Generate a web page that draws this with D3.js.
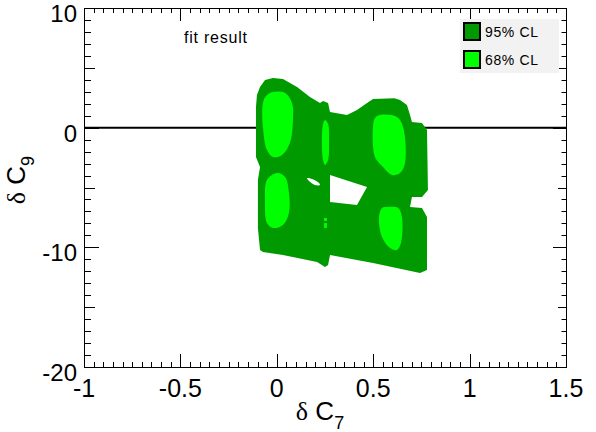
<!DOCTYPE html>
<html>
<head>
<meta charset="utf-8">
<title>delta C7 vs delta C9 fit contours</title>
<script src="https://d3js.org/d3.v7.min.js"></script>
<style>
  body { margin: 0; background: #fff; }
  text { font-family: "Liberation Sans", Arial, sans-serif; fill: #000; }
</style>
</head>
<body>
<script>
  var width = 596,
      height = 432;

  // axis ticks
  var xMajor = [-1, -0.5, 0, 0.5, 1, 1.5];
  var xLabels = ["-1", "-0.5", "0", "0.5", "1", "1.5"];
  var yMajor = [-20, -10, 0, 10];
  var yLabels = ["-20", "-10", "0", "10"];
  var yMedium = [-15, -5, 5];

  // 95% CL region (outer boundary + two holes), [dC7, dC9]
  var cl95Outer = [
    [-0.087, 3.40], [-0.061, 3.98], [-0.020, 4.15], [0.032, 4.07], [0.105, 3.40],
    [0.172, 2.56], [0.224, 2.06], [0.240, 2.23], [0.266, 2.06], [0.276, 1.31],
    [0.364, 1.06], [0.416, 1.48], [0.468, 2.06], [0.499, 2.40], [0.610, 2.45],
    [0.639, 2.31], [0.675, 1.89], [0.691, 1.06], [0.701, 0.47], [0.753, 0.39],
    [0.779, -0.19], [0.784, -5.21], [0.753, -5.79], [0.701, -5.79], [0.691, -6.63],
    [0.753, -6.71], [0.779, -7.46], [0.779, -11.89], [0.743, -12.14], [0.499, -11.31],
    [0.276, -10.64], [0.266, -11.48], [0.250, -11.64], [0.234, -11.48], [0.209, -11.23],
    [0.032, -10.64], [-0.072, -10.39], [-0.087, -10.22], [-0.098, -8.38], [-0.098, -4.37],
    [-0.087, -3.29], [-0.108, -2.45], [-0.108, 1.73], [-0.103, 2.73]
  ];
  var cl95HoleA = [[0.276, -3.96], [0.468, -4.96], [0.416, -6.46], [0.276, -6.21]];
  var cl95HoleB = [[0.157, -4.21], [0.183, -4.29], [0.219, -4.62], [0.224, -4.79], [0.198, -4.79], [0.167, -4.46]];

  // 68% CL islands
  var cl68UpperLeft = [
    [-0.020, 2.98], [0.043, 2.90], [0.079, 2.06], [0.084, 0.64], [0.068, -1.28],
    [0.027, -2.28], [-0.020, -2.45], [-0.051, -1.87], [-0.072, 0.06], [-0.072, 2.06], [-0.056, 2.65]
  ];
  var cl68LowerLeft = [
    [0.001, -3.79], [0.043, -4.12], [0.063, -5.46], [0.063, -7.13], [0.032, -8.13],
    [-0.020, -8.38], [-0.051, -7.97], [-0.061, -6.04], [-0.051, -4.37]
  ];
  var cl68Strip = [
    [0.250, 0.64], [0.266, 0.31], [0.271, -1.20], [0.266, -2.70],
    [0.250, -3.12], [0.240, -2.70], [0.234, -1.20], [0.240, 0.31]
  ];
  var cl68DotA = [[0.245, -7.55], [0.260, -7.55], [0.260, -7.80], [0.245, -7.80]];
  var cl68DotB = [[0.245, -7.97], [0.260, -7.97], [0.260, -8.38], [0.245, -8.38]];
  var cl68UpperRight = [
    [0.535, 1.06], [0.623, 0.89], [0.655, 0.06], [0.665, -2.95], [0.639, -3.79],
    [0.598, -3.96], [0.551, -3.29], [0.509, -2.45], [0.499, 0.06], [0.509, 0.81]
  ];
  var cl68LowerRight = [
    [0.572, -6.63], [0.629, -6.71], [0.649, -7.46], [0.644, -9.64], [0.623, -10.22],
    [0.587, -10.06], [0.546, -9.14], [0.530, -7.46], [0.546, -6.71]
  ];

  var legendLabels = ["95% CL", "68% CL"];
  var legendColors = ["#009900", "#00ff00"];

  var x0 = 84, x1 = 566, y0 = 8, y1 = 367;

  var x = d3.scaleLinear().domain([-1, 1.5]).range([x0, x1]);
  var y = d3.scaleLinear().domain([-20, 10]).range([y1, y0]);

  var svg = d3.select("body").append("svg")
      .attr("width", width)
      .attr("height", height);

  // zero line, under the contours
  svg.append("line")
      .attr("x1", x0).attr("x2", x1)
      .attr("y1", y(0)).attr("y2", y(0))
      .attr("stroke", "#000").attr("stroke-width", 2);

  var lin = d3.line().x(function(d) { return x(d[0]); }).y(function(d) { return y(d[1]); })
      .curve(d3.curveLinearClosed);
  var smooth = d3.line().x(function(d) { return x(d[0]); }).y(function(d) { return y(d[1]); })
      .curve(d3.curveCatmullRomClosed.alpha(0.5));

  svg.append("path")
      .attr("d", lin(cl95Outer) + lin(cl95HoleA) + smooth(cl95HoleB))
      .attr("fill", legendColors[0])
      .attr("fill-rule", "evenodd");

  svg.selectAll(".cl68")
      .data([cl68UpperLeft, cl68LowerLeft, cl68Strip, cl68UpperRight, cl68LowerRight])
      .enter().append("path")
      .attr("class", "cl68")
      .attr("d", smooth)
      .attr("fill", legendColors[1]);

  svg.selectAll(".dot68")
      .data([cl68DotA, cl68DotB])
      .enter().append("path")
      .attr("class", "dot68")
      .attr("d", lin)
      .attr("fill", legendColors[1]);

  // ticks, pointing inwards on all four sides
  var ticks = svg.append("g").attr("stroke", "#000").attr("stroke-width", 1);
  var xMinor = d3.range(-1, 1.5001, 0.05).filter(function(v) {
    return Math.abs(v * 2 - Math.round(v * 2)) > 1e-6;
  });
  var yMinor = d3.range(-20, 10.001, 1).filter(function(v) { return v % 5 !== 0; });

  function xTick(vals, len) {
    vals.forEach(function(v) {
      var px = Math.round(x(v)) + 0.5;
      ticks.append("line").attr("x1", px).attr("x2", px).attr("y1", y1).attr("y2", y1 - len);
      ticks.append("line").attr("x1", px).attr("x2", px).attr("y1", y0).attr("y2", y0 + len);
    });
  }
  function yTick(vals, lenL, lenR) {
    vals.forEach(function(v) {
      var py = Math.round(y(v)) + 0.5;
      ticks.append("line").attr("x1", x0).attr("x2", x0 + lenL).attr("y1", py).attr("y2", py);
      ticks.append("line").attr("x1", x1).attr("x2", x1 - lenR).attr("y1", py).attr("y2", py);
    });
  }
  xTick(xMajor, 13);
  xTick(xMinor, 5);
  yTick(yMajor, 15, 13);
  yTick(yMedium, 11, 8);
  yTick(yMinor, 7, 4.5);

  svg.append("rect")
      .attr("x", x0 + 0.5).attr("y", y0 + 0.5)
      .attr("width", x1 - x0).attr("height", y1 - y0)
      .attr("fill", "none").attr("stroke", "#000").attr("stroke-width", 1);

  // tick labels
  svg.selectAll(".xlab")
      .data(xMajor)
      .enter().append("text")
      .attr("class", "xlab")
      .attr("x", function(d) { return x(d); })
      .attr("y", 397)
      .attr("text-anchor", "middle")
      .attr("font-size", 25)
      .text(function(d, i) { return xLabels[i]; });

  svg.selectAll(".ylab")
      .data(yMajor)
      .enter().append("text")
      .attr("class", "ylab")
      .attr("x", 77)
      .attr("y", function(d) { return y(d) + 14; })
      .attr("text-anchor", "end")
      .attr("font-size", 24)
      .text(function(d, i) { return yLabels[i]; });

  // axis titles
  var xt = svg.append("text")
      .attr("x", 320).attr("y", 420)
      .attr("text-anchor", "middle")
      .attr("font-size", 26);
  xt.append("tspan").attr("font-family", "Liberation Serif").text("\u03b4");
  xt.append("tspan").text(" C");
  xt.append("tspan").attr("font-size", 18).attr("dy", 9).text("7");

  var yt = svg.append("text")
      .attr("transform", "translate(25,180) rotate(-90)")
      .attr("text-anchor", "middle")
      .attr("font-size", 26);
  yt.append("tspan").attr("font-family", "Liberation Serif").text("\u03b4");
  yt.append("tspan").text(" C");
  yt.append("tspan").attr("font-size", 18).attr("dy", 9).text("9");

  svg.append("text")
      .attr("x", 184).attr("y", 43)
      .attr("font-size", 16)
      .attr("textLength", 63)
      .text("fit result");

  // legend
  var legend = svg.append("g");
  legend.append("rect")
      .attr("x", 460).attr("y", 19)
      .attr("width", 99).attr("height", 54)
      .attr("fill", "#f2f2f2");
  legendLabels.forEach(function(lab, i) {
    legend.append("rect")
        .attr("x", 464).attr("y", 23 + i * 28)
        .attr("width", 16).attr("height", 17)
        .attr("fill", legendColors[i])
        .attr("stroke", "#000").attr("stroke-width", 2);
    legend.append("text")
        .attr("x", 485).attr("y", 37 + i * 28)
        .attr("font-size", 14)
        .attr("textLength", 53)
        .text(lab);
  });
</script>
</body>
</html>
